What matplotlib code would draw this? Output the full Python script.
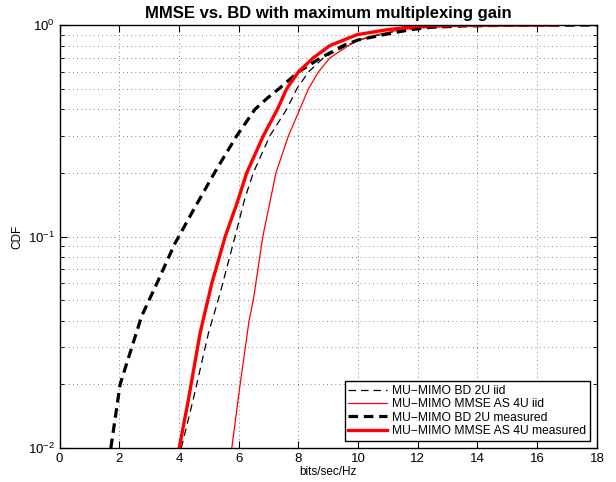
import numpy as np
import matplotlib
matplotlib.use("Agg")
import matplotlib.pyplot as plt

# CDF curves (x in bits/sec/Hz, y = CDF)
bd_iid_x = [4.08, 4.48, 4.99, 5.38, 5.88, 6.2, 6.49, 7.05, 7.61, 7.95, 8.34, 8.84, 9.62, 10.0, 10.74, 11.5, 12.5, 13.5, 15.0, 18.0]
bd_iid_y = [0.01, 0.017, 0.035, 0.054, 0.1, 0.15, 0.2, 0.3, 0.4, 0.5, 0.6, 0.7, 0.8, 0.85, 0.9, 0.95, 0.98, 0.99, 0.997, 1.0]

mmse_iid_x = [5.77, 6.05, 6.35, 6.49, 6.81, 7.25, 7.67, 8.05, 8.34, 8.67, 9.06, 9.68, 10.0, 10.63, 11.4, 12.5, 13.5, 16.5]
mmse_iid_y = [0.01, 0.02, 0.04, 0.05, 0.1, 0.2, 0.3, 0.4, 0.5, 0.6, 0.7, 0.8, 0.846, 0.9, 0.95, 0.985, 0.995, 1.0]

bd_meas_x = [1.72, 2.03, 2.75, 3.26, 3.87, 4.48, 5.1, 5.38, 5.94, 6.55, 6.95, 7.35, 8.0, 8.75, 9.51, 10.0, 10.85, 11.74, 12.4, 13.5, 15.0, 18.0]
bd_meas_y = [0.01, 0.02, 0.042, 0.06, 0.093, 0.133, 0.19, 0.222, 0.3, 0.4, 0.45, 0.5, 0.6, 0.7, 0.8, 0.85, 0.9, 0.95, 0.975, 0.99, 0.997, 1.0]

mmse_meas_x = [4.01, 4.32, 4.71, 5.1, 5.55, 5.94, 6.27, 6.83, 7.3, 7.61, 8.0, 8.5, 9.06, 9.96, 10.96, 12.08, 13.5, 16.6]
mmse_meas_y = [0.01, 0.017, 0.035, 0.06, 0.1, 0.143, 0.2, 0.3, 0.4, 0.5, 0.6, 0.7, 0.8, 0.9, 0.95, 0.99, 0.998, 1.0]

labels = ["MU\u2212MIMO BD 2U iid",
          "MU\u2212MIMO MMSE AS 4U iid",
          "MU\u2212MIMO BD 2U measured",
          "MU\u2212MIMO MMSE AS 4U measured"]

plt.rcParams['font.family'] = ['Liberation Sans', 'DejaVu Sans']
plt.rcParams['mathtext.fontset'] = 'custom'
plt.rcParams['mathtext.rm'] = 'Liberation Sans'
plt.rcParams['mathtext.default'] = 'regular'

fig = plt.figure(figsize=(6.16, 4.82), dpi=100)
ax = fig.add_axes([0.0966, 0.0705, 0.8724, 0.8775])

ax.semilogy(bd_iid_x, bd_iid_y, color='black', linestyle='--', linewidth=0.9, dashes=(6, 4), label=labels[0])
ax.semilogy(mmse_iid_x, mmse_iid_y, color='red', linestyle='-', linewidth=0.9, label=labels[1])
ax.semilogy(bd_meas_x, bd_meas_y, color='black', linestyle='--', linewidth=2.3, dashes=(3, 1.8), label=labels[2])
ax.semilogy(mmse_meas_x, mmse_meas_y, color='red', linestyle='-', linewidth=2.4, label=labels[3])

ax.set_xlim(0, 18)
ax.set_ylim(1e-2, 1)
ax.set_xticks(np.arange(0, 19, 2))

# MATLAB-like dotted grid, minor lines on the log axis too
ax.grid(True, which='major', color='0.35', linewidth=0.6, linestyle=(0, (1, 4)))
ax.grid(True, which='minor', axis='y', color='0.35', linewidth=0.6, linestyle=(0, (1, 4)))

ax.tick_params(which='both', direction='in', top=True, right=True, labelsize=9.5)
ax.tick_params(which='major', length=5)
ax.tick_params(which='minor', length=3)
for s in ax.spines.values():
    s.set_linewidth(1.0)

ax.set_title("MMSE vs. BD with maximum multiplexing gain", fontsize=12, fontweight='bold', pad=5)
ax.set_xlabel("bits/sec/Hz", fontsize=8.5, labelpad=1)
ax.set_ylabel("CDF", fontsize=8.5, labelpad=3)

leg = ax.legend(loc='lower right', fontsize=8.7, frameon=True, fancybox=False,
                edgecolor='black', framealpha=1, borderaxespad=0.6,
                handlelength=3.2, labelspacing=0.12, borderpad=0.3, handletextpad=0.4)
leg.get_frame().set_linewidth(1.0)

fig.savefig("out.png", dpi=100)
